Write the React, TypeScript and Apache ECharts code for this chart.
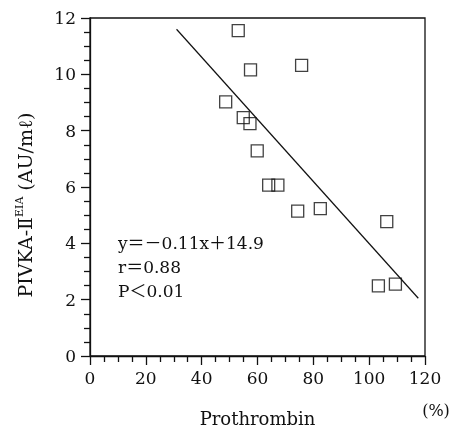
import React, { useEffect, useRef } from "react";
import * as echarts from "echarts";

const prothrombin = [53.1, 57.5, 75.8, 48.6, 54.9, 57.3, 59.9, 64.0, 67.3, 74.4, 82.5, 106.3, 103.3, 109.4];
const pivka = [11.55, 10.16, 10.32, 9.02, 8.46, 8.25, 7.28, 6.07, 6.07, 5.14, 5.23, 4.77, 2.49, 2.55];
const regressionX = [31, 117.6];
const regressionY = [11.6, 2.05];
const statLines = ["y＝－0.11x＋14.9", "r＝0.88", "P＜0.01"];

const FONT = "'DejaVu Serif', 'Liberation Serif', 'Noto Sans CJK JP', serif";
const INK = "#111";

export default function App() {
  const ref = useRef<HTMLDivElement>(null);
  useEffect(() => {
    if (!ref.current) return;
    const chart = echarts.init(ref.current, null, { renderer: "svg" });
    chart.setOption({
      animation: false,
      grid: {
        left: 90,
        right: 36,
        top: 18,
        bottom: 78,
        show: true,
        borderColor: INK,
        borderWidth: 1.3,
        backgroundColor: "rgba(0,0,0,0)",
      },
      xAxis: {
        type: "value",
        min: 0,
        max: 120,
        interval: 20,
        name: "Prothrombin",
        nameLocation: "middle",
        nameGap: 53,
        nameTextStyle: { fontFamily: FONT, fontSize: 18, color: INK },
        axisLine: { show: true, lineStyle: { color: INK, width: 1.3 } },
        axisTick: { show: true, length: 9, lineStyle: { color: INK, width: 1.3 } },
        minorTick: { show: true, splitNumber: 4, length: 6, lineStyle: { color: INK, width: 1.3 } },
        splitLine: { show: true, lineStyle: { color: "rgba(0,0,0,0)" } },
        axisLabel: { fontFamily: FONT, fontSize: 17, color: INK, margin: 13 },
      },
      yAxis: {
        type: "value",
        min: 0,
        max: 12,
        interval: 2,
        axisLine: { show: true, lineStyle: { color: INK, width: 1.3 } },
        axisTick: { show: true, length: 9, lineStyle: { color: INK, width: 1.3 } },
        minorTick: { show: true, splitNumber: 4, length: 6, lineStyle: { color: INK, width: 1.3 } },
        splitLine: { show: true, lineStyle: { color: "rgba(0,0,0,0)" } },
        axisLabel: { fontFamily: FONT, fontSize: 17, color: INK, margin: 14 },
      },
      graphic: [
        {
          type: "text",
          x: 25,
          y: 205,
          rotation: Math.PI / 2,
          style: {
            text: "{m|PIVKA-Ⅱ}{s|EIA}{m| (AU/mℓ)}",
            align: "center",
            verticalAlign: "middle",
            fill: INK,
            rich: {
              m: { fontFamily: FONT, fontSize: 19, fill: INK, lineHeight: 22 },
              s: { fontFamily: FONT, fontSize: 11, fill: INK, verticalAlign: "top", lineHeight: 22 },
            },
          },
        },
        {
          type: "text",
          x: 436,
          y: 410,
          style: { text: "(%)", fontFamily: FONT, fontSize: 16, fill: INK, align: "center", verticalAlign: "middle" },
        },
        ...statLines.map((t, i) => ({
          type: "text",
          x: 118,
          y: 243 + i * 24,
          style: { text: t, fontFamily: FONT, fontSize: 17, fill: INK, align: "left", verticalAlign: "middle" },
        })),
      ],
      series: [
        {
          type: "line",
          data: regressionX.map((x, i) => [x, regressionY[i]]),
          showSymbol: false,
          lineStyle: { color: INK, width: 1.2 },
          silent: true,
        },
        {
          type: "scatter",
          data: prothrombin.map((x, i) => [x, pivka[i]]),
          symbol: "rect",
          symbolSize: 12,
          itemStyle: { color: "rgba(255,255,255,0)", borderColor: INK, borderWidth: 1.3 },
        },
      ],
    });
    return () => chart.dispose();
  }, []);
  return <div ref={ref} style={{ position: "fixed", left: 0, top: 0, width: 461, height: 434 }} />;
}
